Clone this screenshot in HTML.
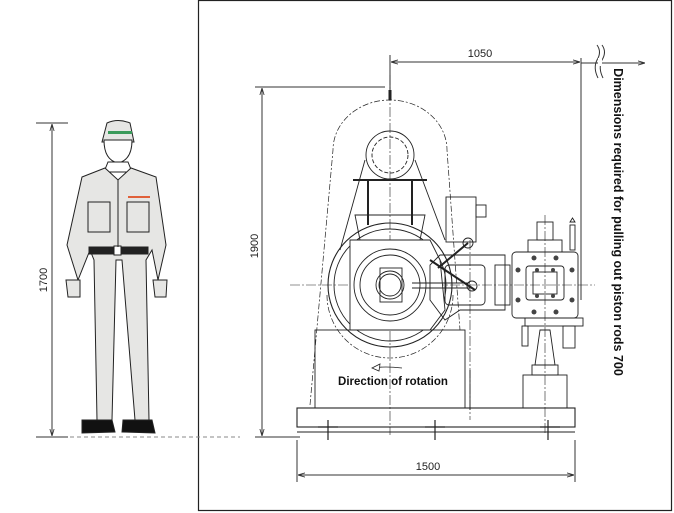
<!DOCTYPE html>
<html><head><meta charset="utf-8"><style>
html,body{margin:0;padding:0;background:#fff;}
svg{display:block;}
text{font-family:"Liberation Sans",sans-serif;}
</style></head><body>
<svg width="674" height="513" viewBox="0 0 674 513" xmlns="http://www.w3.org/2000/svg">
<defs>
<marker id="a" viewBox="0 0 10 10" refX="10" refY="5" markerWidth="7" markerHeight="7" orient="auto-start-reverse"><path d="M0,2 L10,5 L0,8" fill="none" stroke="#333" stroke-width="1.2"/></marker>
</defs>
<rect x="198.5" y="0.5" width="473" height="510" fill="none" stroke="#222" stroke-width="1.2"/>

<g stroke="#222" stroke-width="1" fill="#e6e6e4">
<path d="M107,123 Q118,118 130,123 L134,142 L102,142 Z"/>
<path d="M104,140 Q104,160 118,163 Q132,160 132,140 Z" fill="#fff"/>
<path d="M108,162 L128,162 L132,172 L104,172 Z" fill="#fff"/>
<path d="M82,177 L105,168 L118,180 L131,168 L156,177 L166,245 L158,280 L152,250 L146,260 L149,420 L135,420 L122,260 L116,260 L112,420 L97,420 L94,260 L90,250 L78,280 L67,245 Z"/>
<rect x="89" y="247" width="59" height="7" fill="#222"/>
<rect x="114" y="246" width="7" height="9" fill="#fff"/>
<path d="M66,280 L80,280 L80,297 L68,297 Z M153,280 L167,280 L166,297 L155,297 Z"/>
<path d="M82,420 L112,420 L115,432 L82,433 Z M123,420 L152,420 L155,433 L122,432 Z" fill="#111"/>
<rect x="88" y="202" width="22" height="30" fill="none"/>
<rect x="127" y="202" width="22" height="30" fill="none"/>
<line x1="118" y1="180" x2="118" y2="247"/>
</g>
<rect x="108" y="131" width="24" height="3" fill="#3a9a5a"/>
<rect x="128" y="196" width="22" height="2" fill="#e0603a"/>

<g stroke="#333" stroke-width="1">
<line x1="36" y1="123" x2="68" y2="123"/>
<line x1="36" y1="437" x2="68" y2="437"/>
<line x1="52" y1="124" x2="52" y2="436" marker-start="url(#a)" marker-end="url(#a)"/>
<line x1="70" y1="437" x2="240" y2="437" stroke-dasharray="4,3" stroke="#888"/>
<line x1="255" y1="87" x2="385" y2="87"/>
<line x1="255" y1="437" x2="300" y2="437"/>
<line x1="262" y1="88" x2="262" y2="436" marker-start="url(#a)" marker-end="url(#a)"/>
<line x1="390" y1="55" x2="390" y2="98"/>
<line x1="581" y1="58" x2="581" y2="300"/>
<line x1="391" y1="62" x2="580" y2="62" marker-start="url(#a)" marker-end="url(#a)"/>
<line x1="581" y1="63" x2="645" y2="63" marker-end="url(#a)"/>
<line x1="297" y1="440" x2="297" y2="482"/>
<line x1="575" y1="440" x2="575" y2="482"/>
<line x1="298" y1="475" x2="574" y2="475" marker-start="url(#a)" marker-end="url(#a)"/>
</g>
<path d="M597,45 Q602,52 597,60 Q593,68 598,78 M602,45 Q607,52 602,60 Q598,68 603,78" fill="none" stroke="#333"/>
<rect x="598" y="58" width="4" height="8" fill="#fff"/>

<text x="480" y="57" font-size="11" text-anchor="middle" fill="#222">1050</text>
<text x="428" y="470" font-size="11" text-anchor="middle" fill="#222">1500</text>
<text transform="translate(47,280) rotate(-90)" font-size="11" text-anchor="middle" fill="#222">1700</text>
<text transform="translate(258,246) rotate(-90)" font-size="11" text-anchor="middle" fill="#222">1900</text>
<text transform="translate(614,222) rotate(90)" font-size="12.5" font-weight="bold" text-anchor="middle" fill="#111">Dimensions required for pulling out piston rods 700</text>

<g stroke="#222" stroke-width="0.9" fill="none">
<line x1="390" y1="75" x2="390" y2="435" stroke-dasharray="10,2,2,2" stroke-width="0.6"/>
<line x1="290" y1="285" x2="595" y2="285" stroke-dasharray="10,2,2,2" stroke-width="0.6"/>
<line x1="470" y1="240" x2="470" y2="420" stroke-dasharray="10,2,2,2" stroke-width="0.6"/>
<line x1="545" y1="215" x2="545" y2="435" stroke-dasharray="10,2,2,2" stroke-width="0.6"/>
<path d="M310,405 L333,150 A57,50 0 0 1 447,150 L460,330" stroke-dasharray="6,2,2,2" stroke-width="0.7"/>
<path d="M327,295 A63,63 0 0 0 453,295" stroke-dasharray="6,2,2,2" stroke-width="0.7"/>
<line x1="390" y1="90" x2="390" y2="100" stroke-width="3"/>
<circle cx="390" cy="155" r="24"/>
<circle cx="390" cy="155" r="18" stroke-dasharray="4,2"/>
<line x1="353" y1="180" x2="427" y2="180" stroke-width="2"/>
<line x1="368" y1="180" x2="368" y2="225" stroke-width="2"/>
<line x1="412" y1="180" x2="412" y2="225" stroke-width="2"/>
<path d="M355,215 L425,215 L420,240 L360,240 Z"/>
<line x1="365" y1="160" x2="340" y2="250"/>
<line x1="415" y1="160" x2="445" y2="240"/>
<circle cx="390" cy="285" r="62" stroke-width="1.1"/>
<circle cx="390" cy="285" r="56"/>
<path d="M350,240 L430,240 L440,260 L445,310 L430,330 L350,330 Z" fill="#fff"/>
<circle cx="390" cy="285" r="36"/>
<circle cx="390" cy="285" r="30"/>
<circle cx="390" cy="285" r="14"/>
<circle cx="390" cy="285" r="11"/>
<rect x="380" y="268" width="22" height="34"/>
<path d="M430,300 L445,320 L460,310 L505,310 L505,255 L440,255 L430,265 Z"/>
<rect x="445" y="265" width="40" height="40" rx="4"/>
<line x1="412" y1="283" x2="470" y2="283"/>
<line x1="412" y1="288" x2="470" y2="288"/>
<line x1="430" y1="260" x2="475" y2="290" stroke-width="2"/>
<circle cx="472" cy="286" r="5"/>
<rect x="446" y="197" width="30" height="45"/>
<rect x="476" y="205" width="10" height="12"/>
<circle cx="468" cy="243" r="5"/>
<line x1="438" y1="268" x2="468" y2="243" stroke-width="2"/>
<rect x="495" y="265" width="15" height="40"/>
<rect x="512" y="252" width="66" height="66" rx="4"/>
<rect x="526" y="266" width="38" height="34" rx="3"/>
<rect x="533" y="272" width="24" height="22"/>
<rect x="528" y="240" width="34" height="12"/>
<rect x="537" y="222" width="16" height="18"/>
<rect x="570" y="225" width="5" height="25"/>
<path d="M570,222 L575,222 L572.5,218 Z"/>
<rect x="525" y="318" width="58" height="8"/>
<rect x="522" y="326" width="6" height="20"/>
<rect x="563" y="326" width="12" height="22"/>
<path d="M540,330 L550,330 L555,365 L535,365 Z"/>
<rect x="532" y="365" width="26" height="10"/>
<rect x="523" y="375" width="44" height="33"/>
<g fill="#444" stroke="none">
<circle cx="518" cy="270" r="2.5"/><circle cx="572" cy="270" r="2.5"/><circle cx="518" cy="300" r="2.5"/><circle cx="572" cy="300" r="2.5"/>
<circle cx="534" cy="258" r="2.5"/><circle cx="556" cy="258" r="2.5"/><circle cx="534" cy="312" r="2.5"/><circle cx="556" cy="312" r="2.5"/>
<circle cx="537" cy="270" r="2"/><circle cx="553" cy="270" r="2"/><circle cx="537" cy="296" r="2"/><circle cx="553" cy="296" r="2"/>
</g>
<rect x="315" y="330" width="150" height="78"/>
<rect x="297" y="408" width="278" height="19" stroke-width="1.1"/>
<line x1="297" y1="432" x2="575" y2="432"/>
<line x1="470" y1="370" x2="470" y2="410"/>
<g stroke-width="1.2">
<line x1="318" y1="427" x2="338" y2="427"/><line x1="328" y1="420" x2="328" y2="440"/>
<line x1="425" y1="427" x2="445" y2="427"/><line x1="435" y1="420" x2="435" y2="440"/>
<line x1="540" y1="427" x2="560" y2="427"/><line x1="548" y1="420" x2="548" y2="440"/>
</g>
<path d="M402,368 Q385,366 372,368" stroke-width="0.8"/>
<path d="M372,368 L380,364 L379,371 Z" stroke-width="0.8" fill="#fff"/>
</g>
<text x="393" y="385" font-size="11.5" font-weight="bold" text-anchor="middle" fill="#111">Direction of rotation</text>
</svg>
</body></html>
